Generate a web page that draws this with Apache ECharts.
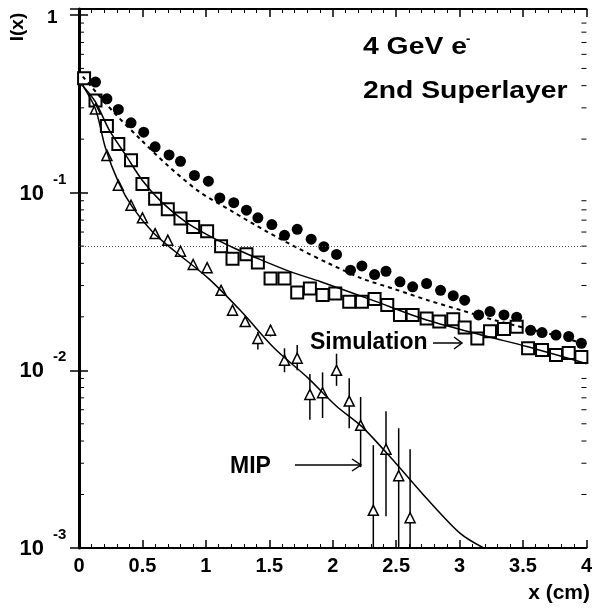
<!DOCTYPE html>
<html>
<head>
<meta charset="utf-8">
<script src="https://cdn.jsdelivr.net/npm/echarts@6/dist/echarts.min.js"></script>
<style>
  html, body { margin: 0; padding: 0; background: #fff; }
  #chart { width: 595px; height: 609px; }
</style>
</head>
<body>
<div id="chart"></div>
<script>
// 4 GeV electrons, 2nd superlayer: lateral profile I(x)

// filled circles (data)
const circleX = [0.04, 0.13, 0.22, 0.31, 0.41, 0.51, 0.60, 0.71, 0.80, 0.91, 1.02, 1.11, 1.22, 1.32, 1.41, 1.52, 1.62, 1.72, 1.83, 1.93, 2.03,
                 2.14, 2.23, 2.33, 2.42, 2.53, 2.63, 2.74, 2.85, 2.95, 3.04, 3.15, 3.24, 3.35, 3.45, 3.56, 3.65, 3.76, 3.86, 3.96];
const circleY = [0.44, 0.419, 0.337, 0.294, 0.247, 0.219, 0.181, 0.163, 0.150, 0.125, 0.116, 0.0933, 0.0878, 0.0796, 0.0721, 0.0661, 0.0575, 0.0622, 0.0547, 0.0496, 0.0449,
                 0.0366, 0.0387, 0.0346, 0.0361, 0.0315, 0.0295, 0.0308, 0.0282, 0.0263, 0.0248, 0.0205, 0.0214, 0.0205, 0.0199, 0.0168, 0.0163, 0.0158, 0.0155, 0.0142];

// open squares
const squareX = [0.04, 0.13, 0.22, 0.31, 0.41, 0.50, 0.60, 0.70, 0.80, 0.90, 1.01, 1.12, 1.21, 1.32, 1.41, 1.51, 1.62, 1.72, 1.82, 1.92, 2.02,
                 2.13, 2.23, 2.33, 2.43, 2.53, 2.63, 2.74, 2.84, 2.95, 3.04, 3.14, 3.24, 3.35, 3.45, 3.54, 3.65, 3.76, 3.86, 3.96];
const squareY = [0.44, 0.330, 0.237, 0.188, 0.152, 0.112, 0.0925, 0.0806, 0.0714, 0.0641, 0.0606, 0.0499, 0.0425, 0.0450, 0.0404, 0.0329, 0.0329, 0.0274, 0.0289, 0.0265, 0.0271,
                 0.0243, 0.0243, 0.0252, 0.0233, 0.0205, 0.0205, 0.0196, 0.0188, 0.0194, 0.0174, 0.0151, 0.0166, 0.0171, 0.0176, 0.0133, 0.0130, 0.0122, 0.0125, 0.0119];

// open triangles (MIP)
const triangleX = [0.13, 0.22, 0.31, 0.41, 0.50, 0.60, 0.70, 0.80, 0.90, 1.01, 1.12, 1.21, 1.31, 1.41, 1.51, 1.62, 1.72, 1.82, 1.92, 2.03, 2.13, 2.22, 2.32, 2.42, 2.52, 2.61];
const triangleY = [0.296, 0.162, 0.110, 0.0849, 0.0721, 0.0588, 0.0540, 0.0468, 0.0394, 0.0378, 0.0282, 0.0218, 0.0188, 0.0151, 0.0168, 0.0114, 0.0117, 0.00732, 0.00748, 0.0100, 0.00671, 0.00490, 0.00163, 0.00360, 0.00255, 0.00148];

// MIP error bars (lower end 0.001 = runs off the bottom of the axis)
const errX  = [1.41, 1.51, 1.62, 1.72, 1.82, 1.92, 2.03, 2.13, 2.22, 2.32, 2.42, 2.52, 2.61];
const errLo = [0.0131, 0.0155, 0.00975, 0.0100, 0.00527, 0.00539, 0.00818, 0.00472, 0.00285, 0.001, 0.00151, 0.001, 0.001];
const errHi = [0.0165, 0.0179, 0.0133, 0.0139, 0.00952, 0.00974, 0.0124, 0.00903, 0.00708, 0.00379, 0.00589, 0.00472, 0.00360];

// fitted curves
const mipFitX = [0.03, 0.13, 0.21, 0.31, 0.42, 0.58, 0.76, 1.02, 1.28, 1.54, 1.80, 2.03, 2.23, 2.49, 2.75, 3.01, 3.19];
const mipFitY = [0.40, 0.296, 0.177, 0.115, 0.0831, 0.0601, 0.0465, 0.0329, 0.0214, 0.0133, 0.00912, 0.00628, 0.00482, 0.00304, 0.00187, 0.00120, 0.001];
const squareFitX = [0.03, 0.13, 0.24, 0.37, 0.50, 0.65, 0.84, 1.02, 1.23, 1.44, 1.67, 1.90, 2.30, 2.74, 3.22, 3.53, 4.0];
const squareFitY = [0.40, 0.324, 0.224, 0.162, 0.117, 0.0887, 0.0685, 0.0575, 0.0485, 0.0417, 0.0358, 0.0316, 0.025, 0.0192, 0.0155, 0.0136, 0.0109];
const simFitX = [0.03, 0.27, 0.48, 0.70, 0.95, 1.21, 1.48, 1.73, 1.97, 2.23, 2.49, 2.75, 3.01, 3.27, 3.53, 3.79, 4.0];
const simFitY = [0.45, 0.285, 0.201, 0.142, 0.101, 0.0782, 0.0604, 0.0485, 0.0399, 0.0329, 0.0286, 0.0248, 0.0218, 0.0192, 0.0172, 0.0155, 0.0139];

// horizontal reference level
const refLevel = 0.05;

// axis ranges and ticks
const xMin = 0, xMax = 4, xStep = 0.5;
const yMin = 0.001, yMax = 1.08;
const yDecades = [-3, -2, -1, 0];

const FONT = '"Liberation Sans", Arial, Helvetica, sans-serif';

const zip = (a, b) => a.map((v, i) => [v, b[i]]);

// log minor ticks 2..9 within each decade
const yMinor = [];
for (let d = 0; d < yDecades.length - 1; d++) {
  for (let m = 2; m <= 9; m++) yMinor.push([0, m * Math.pow(10, yDecades[d])]);
}

const chart = echarts.init(document.getElementById('chart'), null, { renderer: 'canvas' });

const axisLineStyle = (w) => ({ show: true, lineStyle: { color: '#000', width: w } });

const txt = (x, y, text, font, align, extra) => Object.assign({
  type: 'text', x: x, y: y, silent: true,
  style: { text: text, font: font, fill: '#000', textAlign: align || 'left', textVerticalAlign: 'middle' }
}, extra || {});

const annotations = [
  txt(18, 27, 'I(x)', 'bold 19px ' + FONT, 'center', { rotation: Math.PI / 2 }),
  txt(363, 47, '4 GeV e', 'bold 24px ' + FONT, 'left', { scaleX: 1.18 }),
  txt(466, 39, '-', 'bold 13px ' + FONT, 'left'),
  txt(363, 91, '2nd Superlayer', 'bold 24px ' + FONT, 'left', { scaleX: 1.18 }),
  txt(310, 343, 'Simulation', 'bold 23px ' + FONT, 'left'),
  { type: 'polyline', silent: true, shape: { points: [[433, 343], [462, 343]] }, style: { stroke: '#000', lineWidth: 1.5, fill: null } },
  { type: 'polyline', silent: true, shape: { points: [[454, 337], [462, 343], [454, 349]] }, style: { stroke: '#000', lineWidth: 1.5, fill: null } },
  txt(230, 467, 'MIP', 'bold 23px ' + FONT, 'left'),
  { type: 'polyline', silent: true, shape: { points: [[295, 465], [361, 465]] }, style: { stroke: '#000', lineWidth: 1.5, fill: null } },
  { type: 'polyline', silent: true, shape: { points: [[352, 459], [361, 465], [352, 471]] }, style: { stroke: '#000', lineWidth: 1.5, fill: null } },
  txt(590, 593, 'x (cm)', 'bold 21px ' + FONT, 'right')
];

const option = {
  animation: false,
  backgroundColor: '#fff',
  grid: { left: 79, right: 4, top: 9, bottom: 61 },
  xAxis: [
    {
      type: 'value', min: xMin, max: xMax, interval: xStep, position: 'bottom',
      axisLine: axisLineStyle(2),
      axisTick: { show: true, inside: true, length: 8, lineStyle: { color: '#000', width: 1.5 } },
      minorTick: { show: true, splitNumber: 5, length: 4, lineStyle: { color: '#000', width: 1 } },
      splitLine: { show: false },
      axisLabel: {
        margin: 8, color: '#000', fontSize: 20, fontWeight: 'bold', fontFamily: FONT,
        formatter: v => String(v)
      }
    },
    {
      type: 'value', min: xMin, max: xMax, interval: xStep, position: 'top',
      axisLine: axisLineStyle(2),
      axisTick: { show: true, inside: true, length: 8, lineStyle: { color: '#000', width: 1.5 } },
      minorTick: { show: true, splitNumber: 5, length: 4, lineStyle: { color: '#000', width: 1 } },
      splitLine: { show: false },
      axisLabel: { show: false }
    }
  ],
  yAxis: [
    {
      type: 'log', logBase: 10, min: yMin, max: yMax, position: 'left',
      axisLine: axisLineStyle(3),
      axisTick: { show: true, inside: true, length: 9, lineStyle: { color: '#000', width: 1.5 } },
      splitLine: { show: false },
      axisLabel: { show: false }
    },
    {
      type: 'log', logBase: 10, min: yMin, max: yMax, position: 'right',
      axisLine: axisLineStyle(2),
      axisTick: { show: true, inside: true, length: 9, lineStyle: { color: '#000', width: 1.5 } },
      splitLine: { show: false },
      axisLabel: { show: false }
    }
  ],
  series: [
    {
      // log minor ticks on left and right frame
      type: 'custom', silent: true, clip: false,
      data: yMinor,
      renderItem: (params, api) => {
        const v = api.value(1);
        const l = api.coord([xMin, v]);
        const r = api.coord([xMax, v]);
        return {
          type: 'group',
          children: [
            { type: 'line', shape: { x1: l[0], y1: l[1], x2: l[0] + 5, y2: l[1] }, style: { stroke: '#000', lineWidth: 1 } },
            { type: 'line', shape: { x1: r[0], y1: r[1], x2: r[0] - 5, y2: r[1] }, style: { stroke: '#000', lineWidth: 1 } }
          ]
        };
      }
    },
    {
      // MIP error bars
      type: 'custom', silent: true, clip: true,
      encode: { x: 0, y: [1, 2] },
      data: errX.map((x, i) => [x, errLo[i], errHi[i]]),
      renderItem: (params, api) => {
        const lo = api.coord([api.value(0), api.value(1)]);
        const hi = api.coord([api.value(0), api.value(2)]);
        return { type: 'line', shape: { x1: lo[0], y1: lo[1], x2: hi[0], y2: hi[1] }, style: { stroke: '#000', lineWidth: 1.5 } };
      }
    },
    {
      name: 'Simulation fit', type: 'line', data: zip(simFitX, simFitY),
      showSymbol: false, smooth: 0.3, silent: true,
      lineStyle: { color: '#000', width: 2, type: [4, 4] },
      markLine: {
        silent: true, symbol: ['none', 'none'], label: { show: false },
        lineStyle: { color: '#555', width: 1, type: [1, 2] },
        data: [{ yAxis: refLevel }]
      }
    },
    {
      name: 'Square fit', type: 'line', data: zip(squareFitX, squareFitY),
      showSymbol: false, smooth: 0.3, silent: true,
      lineStyle: { color: '#000', width: 1.5 }
    },
    {
      name: 'MIP fit', type: 'line', data: zip(mipFitX, mipFitY),
      showSymbol: false, smooth: 0.3, silent: true,
      lineStyle: { color: '#000', width: 1.5 }
    },
    {
      name: 'Circles', type: 'scatter', data: zip(circleX, circleY),
      symbol: 'circle', symbolSize: 11,
      itemStyle: { color: '#000', opacity: 1 }
    },
    {
      name: 'Squares', type: 'scatter', data: zip(squareX, squareY),
      symbol: 'rect', symbolSize: 12,
      itemStyle: { color: '#fff', borderColor: '#000', borderWidth: 2, opacity: 1 }
    },
    {
      name: 'MIP', type: 'scatter', data: zip(triangleX, triangleY),
      symbol: 'triangle', symbolSize: 10,
      itemStyle: { color: '#fff', borderColor: '#000', borderWidth: 1.5, opacity: 1 }
    }
  ],
  graphic: annotations
};

chart.setOption(option);

// y tick labels as powers of ten, placed through the axis scale
const yLabels = [];
yDecades.forEach(e => {
  const py = chart.convertToPixel({ yAxisIndex: 0 }, Math.pow(10, e));
  if (e === 0) {
    yLabels.push(txt(47, py + 3, '1', 'bold 19px ' + FONT, 'left'));
  } else {
    yLabels.push(txt(44, py + 1, '10', 'bold 22px ' + FONT, 'right'));
    yLabels.push(txt(53, py - 13, String(e), 'bold 15px ' + FONT, 'left'));
  }
});
chart.setOption({ graphic: annotations.concat(yLabels) });
</script>
</body>
</html>
